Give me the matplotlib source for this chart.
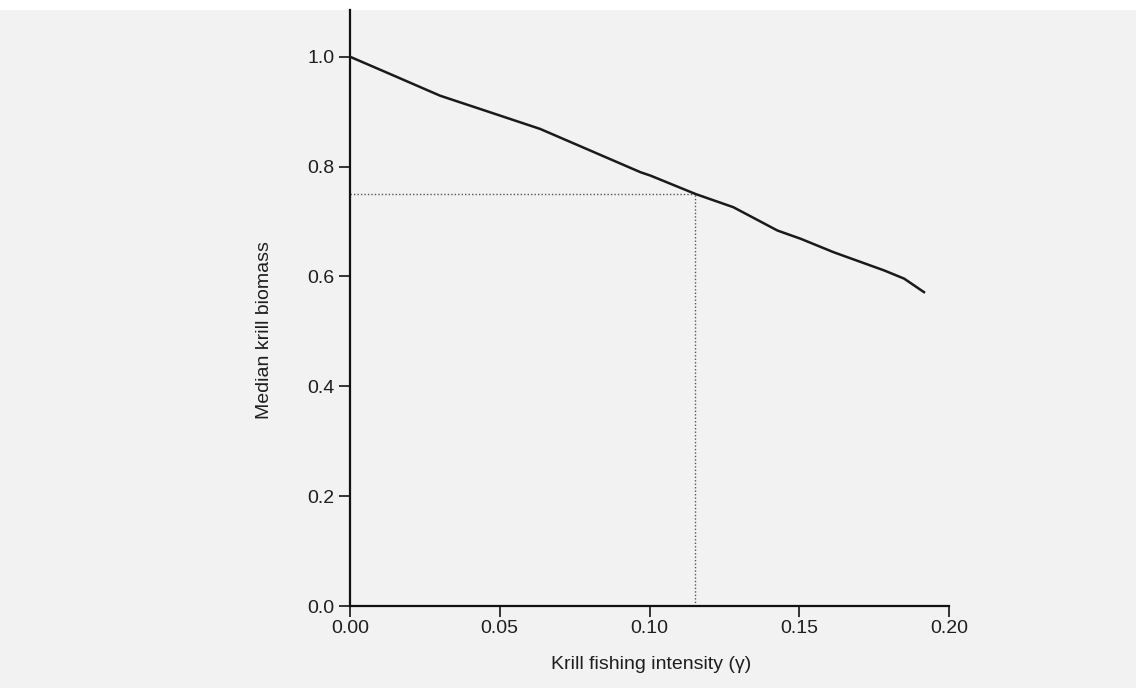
import numpy as np
import matplotlib.pyplot as plt
from matplotlib.patches import Rectangle

plt.rcParams['font.family'] = ['Liberation Sans', 'DejaVu Sans']

# median krill biomass against fishing intensity
gamma = [0.0, 0.0134, 0.0301, 0.0468, 0.0635, 0.0803, 0.097, 0.1003, 0.1154, 0.128,
         0.1427, 0.1505, 0.1615, 0.1783, 0.185, 0.1916]
biomass = [1.0, 0.9685, 0.929, 0.8988, 0.8685, 0.829, 0.7897, 0.7836, 0.750, 0.726,
           0.6836, 0.6685, 0.644, 0.611, 0.596, 0.5715]

# reference level and the intensity where the curve reaches it
ref_level = 0.75
ref_gamma = 0.1152

x_ticks = [0.00, 0.05, 0.10, 0.15, 0.20]
x_ticklabels = ['0.00', '0.05', '0.10', '0.15', '0.20']
y_ticks = [0.0, 0.2, 0.4, 0.6, 0.8, 1.0]
y_ticklabels = ['0.0', '0.2', '0.4', '0.6', '0.8', '1.0']

bg = '#f2f2f2'
fig = plt.figure(figsize=(11.36, 6.88), dpi=100, facecolor=bg)
fig.patches.append(Rectangle((0, 0.985), 1, 0.015, transform=fig.transFigure,
                             facecolor='white', edgecolor='none', zorder=-1))
ax = fig.add_axes([0.308, 0.119, 0.5275, 0.8665])
ax.set_facecolor(bg)

ax.plot(gamma, biomass, color='#1a1a1a', lw=1.8, zorder=3)
ax.plot([0, ref_gamma], [ref_level, ref_level], color='#555555', lw=1.0, ls=(0, (1, 1.5)))
ax.plot([ref_gamma, ref_gamma], [0, ref_level], color='#555555', lw=1.0, ls=(0, (1, 1.5)))

ax.set_xlim(0, 0.20)
ax.set_ylim(0, 1.085)
ax.set_xticks(x_ticks)
ax.set_xticklabels(x_ticklabels)
ax.set_yticks(y_ticks)
ax.set_yticklabels(y_ticklabels)

for side in ['top', 'right']:
    ax.spines[side].set_visible(False)
for side in ['left', 'bottom']:
    ax.spines[side].set_linewidth(1.6)
    ax.spines[side].set_color('#111111')

ax.tick_params(axis='both', direction='out', width=1.4, color='#333333',
               labelsize=14, labelcolor='#1e1e1e')
ax.tick_params(axis='x', length=8, pad=2)
ax.tick_params(axis='y', length=8, pad=3)

ax.set_xlabel('Krill fishing intensity (\u03b3)', fontsize=14, color='#1e1e1e')
ax.set_ylabel('Median krill biomass', fontsize=14, color='#1e1e1e')
ax.xaxis.set_label_coords(0.502, -0.083)
ax.yaxis.set_label_coords(-0.129, 0.463)

fig.savefig('out.png', dpi=100, facecolor=bg)
